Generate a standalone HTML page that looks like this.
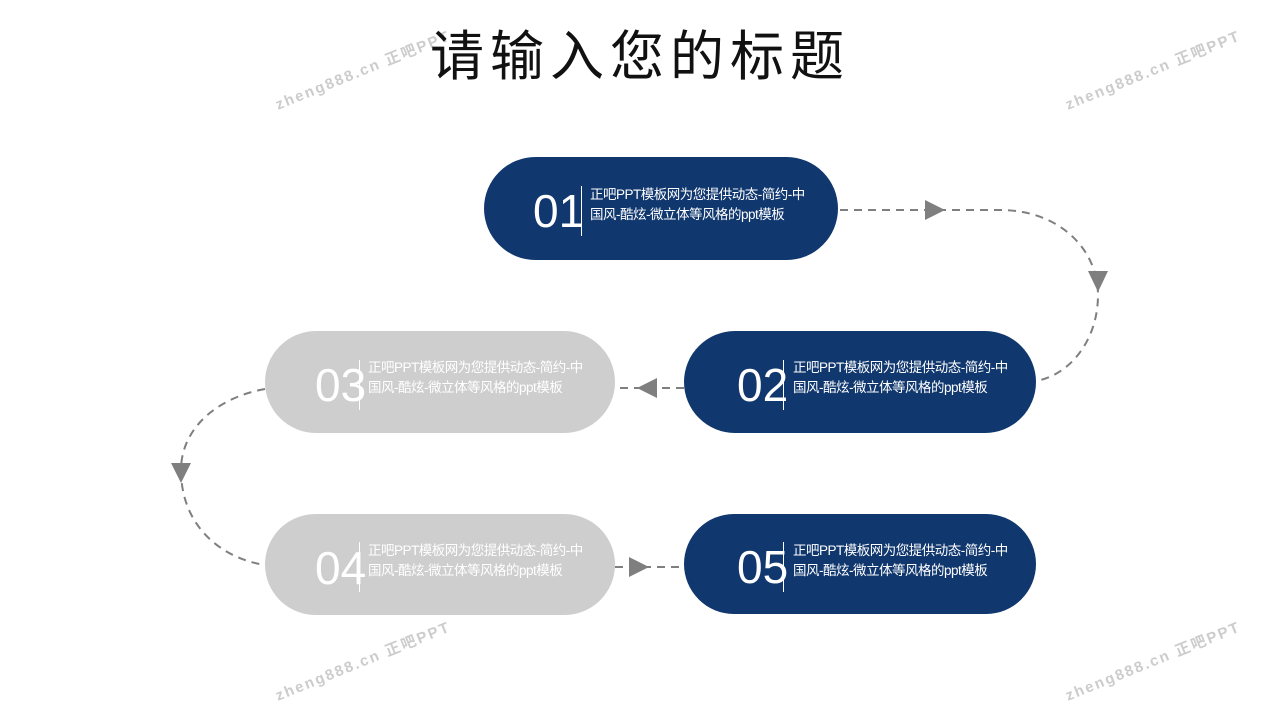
<!DOCTYPE html>
<html><head><meta charset="utf-8"><style>
html,body{margin:0;padding:0;background:#fff;}
body{width:1280px;height:720px;position:relative;overflow:hidden;font-family:"Liberation Sans","Noto Sans CJK SC",sans-serif;}
.title{position:absolute;left:420px;top:24px;width:440px;text-align:center;font-size:54px;letter-spacing:6px;color:#111;line-height:66px;font-family:"Liberation Sans","Noto Sans CJK SC",sans-serif;}
.pill{position:absolute;border-radius:52px;}
.blue{background:#10376e;}
.gray{background:#cfcecf;}
.num{position:absolute;color:#fff;font-size:46px;line-height:46px;font-family:"Liberation Sans",sans-serif;}
.div{position:absolute;width:1px;height:50px;background:#fff;}
.txt{position:absolute;color:#fff;font-size:13.5px;line-height:20px;white-space:nowrap;letter-spacing:-0.5px;}
.wm{position:absolute;color:#ccc;font-size:15px;font-weight:bold;letter-spacing:2px;transform:rotate(-22deg);transform-origin:left top;white-space:nowrap;}
</style></head><body>
<div class="wm" style="left:272px;top:95px;">zheng888.cn 正吧PPT</div>
<div class="wm" style="left:1062px;top:95px;">zheng888.cn 正吧PPT</div>
<div class="wm" style="left:272px;top:686px;">zheng888.cn 正吧PPT</div>
<div class="wm" style="left:1062px;top:686px;">zheng888.cn 正吧PPT</div>
<div class="title">请输入您的标题</div>

<svg style="position:absolute;left:0;top:0" width="1280" height="720">
<g fill="none" stroke="#7f7f7f" stroke-width="2" stroke-dasharray="8,6">
<path d="M840 210 L1000 210 C1060 210 1098 250 1098 295 C1098 340 1070 375 1036 381"/>
<path d="M684 388 L615 388"/>
<path d="M265 389 C215 398 181 430 181 470 C181 525 220 558 265 565"/>
<path d="M615 567 L684 567"/>
</g>
<g fill="#7f7f7f">
<polygon points="925,200 945,210 925,220"/>
<polygon points="1088,271 1108,271 1098,292"/>
<polygon points="657,378 657,398 637,388"/>
<polygon points="171,463 191,463 181,483"/>
<polygon points="629,557 649,567 629,577"/>
</g>
</svg>

<div class="pill blue" style="left:484px;top:157px;width:354px;height:103px;"></div>
<div class="num" style="left:533px;top:188px;">01</div>
<div class="div" style="left:581px;top:186px;"></div>
<div class="txt" style="left:590px;top:185px;">正吧PPT模板网为您提供动态-简约-中<br>国风-酷炫-微立体等风格的ppt模板</div>

<div class="pill blue" style="left:684px;top:331px;width:352px;height:102px;"></div>
<div class="num" style="left:737px;top:362px;">02</div>
<div class="div" style="left:783px;top:360px;"></div>
<div class="txt" style="left:793px;top:358px;">正吧PPT模板网为您提供动态-简约-中<br>国风-酷炫-微立体等风格的ppt模板</div>

<div class="pill gray" style="left:265px;top:331px;width:350px;height:102px;"></div>
<div class="num" style="left:315px;top:362px;">03</div>
<div class="div" style="left:359px;top:360px;"></div>
<div class="txt" style="left:368px;top:358px;">正吧PPT模板网为您提供动态-简约-中<br>国风-酷炫-微立体等风格的ppt模板</div>

<div class="pill gray" style="left:265px;top:514px;width:350px;height:101px;"></div>
<div class="num" style="left:315px;top:545px;">04</div>
<div class="div" style="left:359px;top:542px;"></div>
<div class="txt" style="left:368px;top:541px;">正吧PPT模板网为您提供动态-简约-中<br>国风-酷炫-微立体等风格的ppt模板</div>

<div class="pill blue" style="left:684px;top:514px;width:352px;height:100px;"></div>
<div class="num" style="left:737px;top:544px;">05</div>
<div class="div" style="left:783px;top:542px;"></div>
<div class="txt" style="left:793px;top:541px;">正吧PPT模板网为您提供动态-简约-中<br>国风-酷炫-微立体等风格的ppt模板</div>
</body></html>
